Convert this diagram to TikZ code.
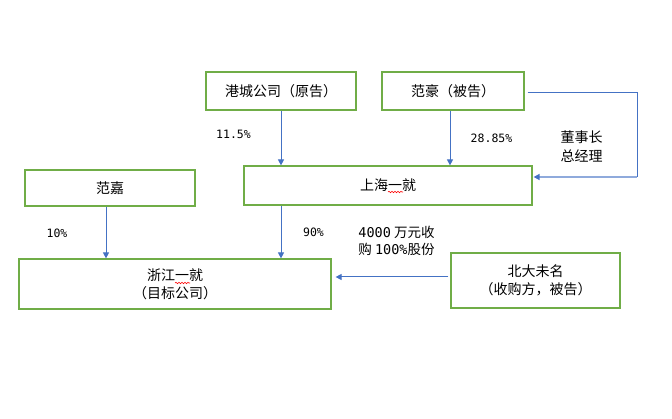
\documentclass[tikz,border=0pt]{standalone}
\usepackage{fontspec}
\setmainfont{Noto Sans CJK SC}
\newfontfamily\numfont{DejaVu Sans Mono}
\usetikzlibrary{arrows.meta,calc,decorations.pathmorphing}
\definecolor{boxgreen}{HTML}{70AD47}
\definecolor{arrowblue}{HTML}{4472C4}
\definecolor{lightblue}{HTML}{8FAADC}
\begin{document}
\begin{tikzpicture}[x=1pt,y=-1pt,
  box/.style={draw=boxgreen,line width=1.2pt,inner sep=0pt,align=center,
    font=\fontsize{14}{18}\selectfont},
  conn/.style={draw=arrowblue,line width=1pt,-{Triangle[width=6pt,length=6pt]}},
  lbl/.style={inner sep=0pt,font=\fontsize{11.5}{17}\selectfont\numfont},
  squig/.style={draw=red,line width=0.6pt,decorate,
    decoration={snake,amplitude=0.7pt,segment length=3pt}}]
\useasboundingbox[fill=white] (0,0) rectangle (672,419);
% boxes
\node[box,minimum width=150pt,minimum height=38pt] (gc) at (281,91) {港城公司（原告）};
\node[box,minimum width=142pt,minimum height=38pt] (fh) at (453,91) {范豪（被告）};
\node[box,minimum width=288pt,minimum height=39pt] (sh) at (388,185.5) {上海一就};
\node[box,minimum width=170pt,minimum height=36pt] (fj) at (110,188) {范嘉};
\node[box,minimum width=312pt,minimum height=50pt] (zj) at (175,284) {浙江一就\\（目标公司）};
\node[box,minimum width=169pt,minimum height=55pt] (bd) at (535.5,280.5) {北大未名\\（收购方，被告）};
% connectors
\draw[conn] (gc.south) -- (gc.south |- sh.north);
\draw[conn] ([xshift=-3pt]fh.south) -- ([xshift=-3pt]fh.south |- sh.north);
\draw[conn] ([xshift=-4pt]fj.south) -- ([xshift=-4pt]fj.south |- zj.north);
\draw[conn] (gc.south |- sh.south) -- (gc.south |- zj.north);
\coordinate (bdout) at ([xshift=-2pt,yshift=3.5pt]bd.west);
\draw[conn] (bdout) -- ([xshift=4pt]zj.east |- bdout);
\coordinate (fhout) at ([xshift=3pt,yshift=-2pt]fh.east);
\coordinate (turn) at (637,177);
\draw[draw=arrowblue,line width=1pt] (fhout) -| (turn);
\draw[draw=lightblue,line width=2pt,-{Triangle[width=6pt,length=6pt,color=arrowblue]}]
  (turn) -- ([xshift=1pt]sh.east |- turn);
% labels
\node[lbl] (l1) at (233.5,134) {11.5\%};
\node[lbl] (l2) at (491.5,138) {28.85\%};
\node[inner sep=0pt,align=center,font=\fontsize{14}{19}\selectfont] (l3) at (581.5,146.5) {董事长\\总经理};
\node[lbl] (l4) at (57,233) {10\%};
\node[lbl] (l5) at (313.5,232) {90\%};
\node[inner sep=0pt,align=left,font=\fontsize{13.5}{17}\selectfont] (l6) at (396.5,240.5)
  {{\numfont 4000} 万元收\\购 {\numfont 100\%}股份};
% spell-check squiggles
\draw[squig] ($(sh.center)+(0,6.5)$) -- ++(15,0);
\draw[squig] ($(zj.center)+(0,-1)$) -- ++(15,0);
\end{tikzpicture}
\end{document}
